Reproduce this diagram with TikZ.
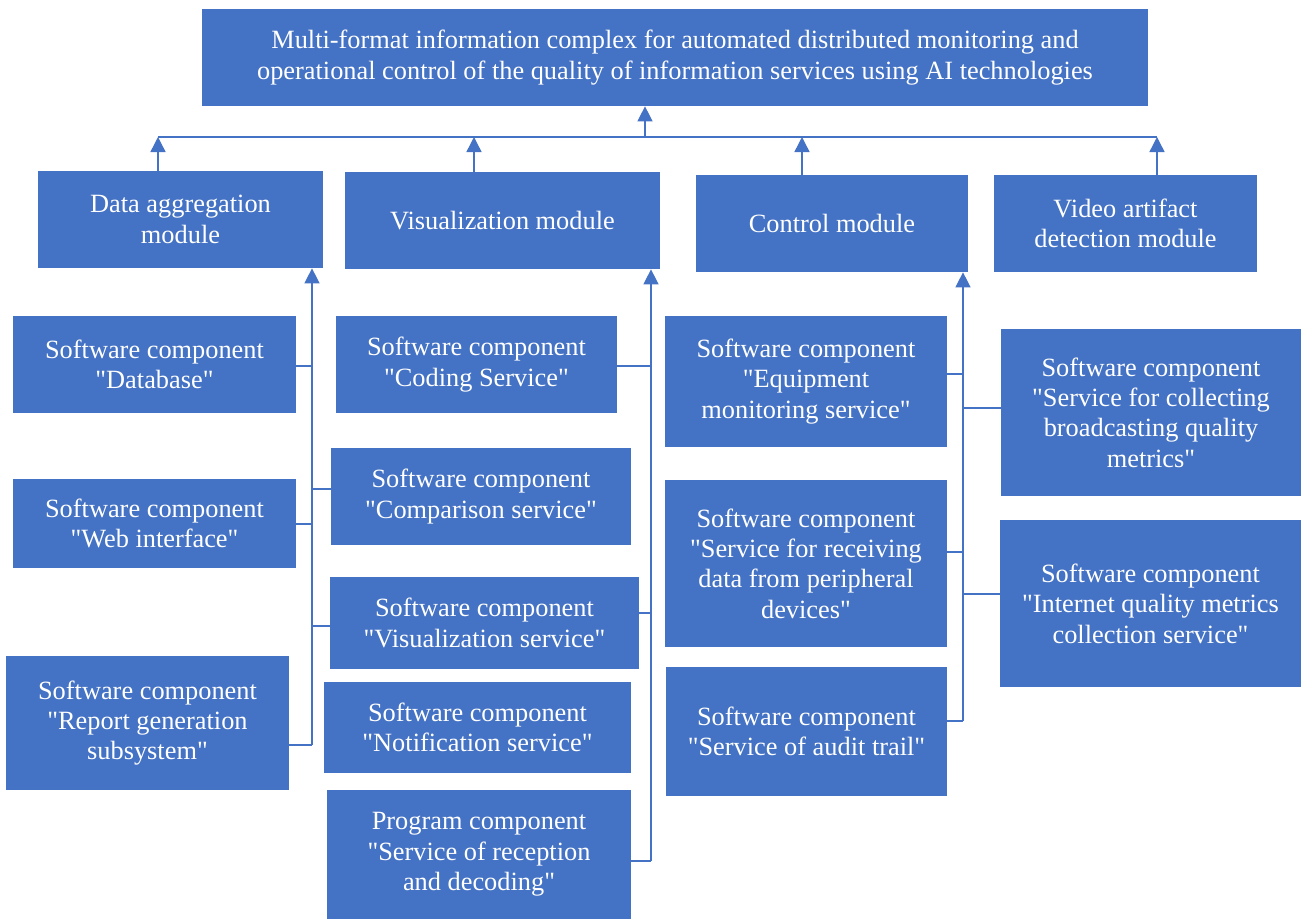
\documentclass[tikz,border=0pt]{standalone}
\usepackage{fontspec}
\setmainfont{Liberation Serif}[Ligatures=TeXOff]
\usetikzlibrary{arrows.meta}

\definecolor{boxblue}{RGB}{68,114,196}

\tikzset{
  box/.style={rectangle,fill=boxblue,text=white,align=center,inner sep=2pt,
    font=\fontsize{15}{17.3}\selectfont},
  sz/.style 2 args={minimum width=#1*0.02cm,minimum height=#2*0.02cm},
  link/.style={draw=boxblue,line width=0.8pt},
  up arrow/.style={link,-{Triangle[width=0.3cm,length=0.3cm]}}
}

\begin{document}
\begin{tikzpicture}[x=0.02cm,y=-0.02cm]
  \useasboundingbox (0,0) rectangle (1303,920);

  % complex and its four modules
  \node[box,sz={946}{97}] (top) at (675,57.5) {Multi-format information complex for automated distributed monitoring and\\operational control of the quality of information services using AI technologies};
  \node[box,sz={285}{97}] (agg) at (180.5,219.5) {Data aggregation\\module};
  \node[box,sz={315}{97}] (vis) at (502.5,220.5) {Visualization module};
  \node[box,sz={272}{97}] (ctl) at (832,223.5) {Control module};
  \node[box,sz={263}{97}] (vid) at (1125.5,223.5) {Video artifact\\detection module};

  % components of the data aggregation module
  \node[box,sz={283}{97}] (db) at (154.5,364.5) {Software component\\"Database"};
  \node[box,sz={283}{89}] (web) at (154.5,523.5) {Software component\\"Web interface"};
  \node[box,sz={283}{134}] (rep) at (147.5,723) {Software component\\"Report generation\\subsystem"};

  % components in the middle column
  \node[box,sz={281}{97}] (cod) at (476.5,364.5) {Software component\\"Coding Service"};
  \node[box,sz={300}{97}] (cmp) at (481,496.5) {Software component\\"Comparison service"};
  \node[box,sz={309}{92}] (vsv) at (484.5,623) {Software component\\"Visualization service"};
  \node[box,sz={307}{91}] (ntf) at (477.5,727.5) {Software component\\"Notification service"};
  \node[box,sz={304}{129}] (rcp) at (479,854.5) {Program component\\"Service of reception\\and decoding"};

  % components of the control module
  \node[box,sz={282}{131}] (eqp) at (806,381.5) {Software component\\"Equipment\\monitoring service"};
  \node[box,sz={282}{167}] (per) at (806,563.5) {Software component\\"Service for receiving\\data from peripheral\\devices"};
  \node[box,sz={281}{129}] (aud) at (806.5,731.5) {Software component\\"Service of audit trail"};
  \node[box,sz={300}{167}] (brd) at (1151,412.5) {Software component\\"Service for collecting\\broadcasting quality\\metrics"};
  \node[box,sz={301}{167}] (inq) at (1150.5,603.5) {Software component\\"Internet quality metrics\\collection service"};

  % bus under the complex
  \coordinate (b0) at (645,137);
  \coordinate (b1) at (158,137);
  \coordinate (b2) at (474,137);
  \coordinate (b3) at (802,137);
  \coordinate (b4) at (1157,137);
  \path[link] (b1) -- (b4);
  \path[up arrow] (b0) -- (top.south -| b0);
  \foreach \source/\dest in {agg/b1, vis/b2, ctl/b3, vid/b4}
    \path[up arrow] (\source.north -| \dest) -- (\dest);

  % trunks going up into the modules
  \coordinate (t1) at (312,745);
  \coordinate (t2) at (651,861);
  \coordinate (t3) at (963,721);
  \path[up arrow] (t1) -- (agg.south -| t1);
  \path[up arrow] (t2) -- (vis.south -| t2);
  \path[up arrow] (t3) -- (ctl.south -| t3);

  % branch points on the trunks
  \coordinate (a1) at (312,366);
  \coordinate (a2) at (312,489);
  \coordinate (a3) at (312,524);
  \coordinate (a4) at (312,626);
  \coordinate (m1) at (651,366);
  \coordinate (m2) at (651,613);
  \coordinate (c1) at (963,374);
  \coordinate (c2) at (963,408);
  \coordinate (c3) at (963,552);
  \coordinate (c4) at (963,594);

  \foreach \pt/\dest/\side in {a1/db/east, a2/cmp/west, a3/web/east, a4/vsv/west,
      t1/rep/east, m1/cod/east, m2/vsv/east, t2/rcp/east,
      c1/eqp/east, c2/brd/west, c3/per/east, c4/inq/west, t3/aud/east}
    \path[link] (\pt) -- (\pt -| \dest.\side);
\end{tikzpicture}
\end{document}
